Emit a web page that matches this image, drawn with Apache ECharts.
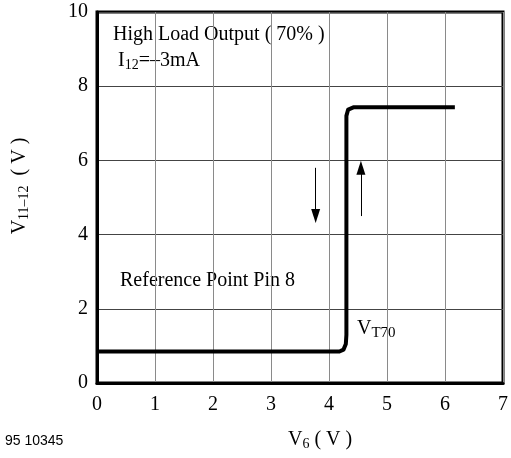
<!DOCTYPE html>
<html>
<head>
<meta charset="utf-8">
<script src="https://cdn.jsdelivr.net/npm/echarts@6/dist/echarts.min.js"></script>
<style>
  html, body { margin: 0; padding: 0; background: #fff; }
  #chart { width: 511px; height: 458px; }
</style>
</head>
<body>
<div id="chart"></div>
<script>
// curve V11-12 vs V6 (hysteresis switch at VT70)
const curveX = [0, 4.18, 4.25, 4.29, 4.3, 4.3, 4.33, 4.42, 6.17];
const curveY = [0.85, 0.85, 0.9, 1.05, 1.3, 7.2, 7.37, 7.43, 7.43];
const xTicks = [0, 1, 2, 3, 4, 5, 6, 7];
const yTicks = [0, 2, 4, 6, 8, 10];
// arrows: [x, yFrom, yTo]
const arrowDown = [3.77, 5.8, 4.5];
const arrowUp = [4.55, 4.5, 5.8];

const serif = '"Liberation Serif", "DejaVu Serif", serif';
const myChart = echarts.init(document.getElementById('chart'));

const sub = (size, pad) => ({
  v: { fontSize: 20, fontFamily: serif, fill: '#000' },
  s: { fontSize: size, fontFamily: serif, fill: '#000', padding: [pad, 0, 0, 0] }
});

const option = {
  animation: false,
  backgroundColor: '#fff',
  textStyle: { fontFamily: serif, color: '#000' },
  grid: {
    left: 97, right: 6, top: 12, bottom: 75,
    show: true, borderColor: '#000', borderWidth: 3
  },
  xAxis: {
    type: 'value', min: 0, max: 7, interval: 1,
    axisLine: { show: true, lineStyle: { color: '#000', width: 3 } },
    axisTick: { show: false },
    splitLine: { show: true, lineStyle: { color: '#8a8a8a', width: 1 } },
    axisLabel: {
      margin: 12, fontSize: 20, fontFamily: serif, color: '#000',
      formatter: v => xTicks.includes(v) ? String(v) : ''
    }
  },
  yAxis: {
    type: 'value', min: 0, max: 10, interval: 2,
    axisLine: { show: true, lineStyle: { color: '#000', width: 3 } },
    axisTick: { show: false },
    splitLine: { show: true, lineStyle: { color: '#444', width: 1 } },
    axisLabel: {
      margin: 9, fontSize: 20, fontFamily: serif, color: '#000',
      formatter: v => yTicks.includes(v) ? String(v) : ''
    }
  },
  series: [
    {
      type: 'line',
      data: curveX.map((x, i) => [x, curveY[i]]),
      showSymbol: false,
      lineStyle: { color: '#000', width: 4, join: 'round', cap: 'butt' },
      z: 5
    },
    {
      type: 'line',
      data: [],
      markLine: {
        silent: true,
        symbol: ['none', 'triangle'],
        symbolSize: [9, 14],
        label: { show: false },
        lineStyle: { color: '#000', width: 1, type: 'solid' },
        data: [
          [{ coord: [arrowDown[0], arrowDown[1]] }, { coord: [arrowDown[0], arrowDown[2]] }],
          [{ coord: [arrowUp[0], arrowUp[1]] }, { coord: [arrowUp[0], arrowUp[2]] }]
        ]
      }
    }
  ],
  graphic: [
    {
      type: 'text', x: 20, y: 186, rotation: Math.PI / 2,
      style: {
        text: '{v|V}{s|11–12}{v|  ( V )}',
        align: 'center', verticalAlign: 'middle',
        rich: sub(14, 8)
      }
    },
    {
      type: 'text', left: 113, top: 25,
      style: { text: 'High Load Output ( 70% )', font: '20px ' + serif, fill: '#000' }
    },
    {
      type: 'text', left: 118, top: 51,
      style: { text: '{v|I}{s|12}{v|=–3mA}', rich: sub(14, 8) }
    },
    {
      type: 'text', left: 120, top: 271,
      style: { text: 'Reference Point Pin 8', font: '20px ' + serif, fill: '#000' }
    },
    {
      type: 'text', left: 357, top: 319,
      style: { text: '{v|V}{s|T70}', rich: sub(15, 8) }
    },
    {
      type: 'text', left: 288, top: 430,
      style: { text: '{v|V}{s|6}{v| ( V )}', rich: sub(14, 8) }
    },
    {
      type: 'text', left: 5, top: 434,
      style: { text: '95 10345', font: '14px "Liberation Sans", Arial, sans-serif', fill: '#000' }
    }
  ]
};

myChart.setOption(option);
</script>
</body>
</html>
